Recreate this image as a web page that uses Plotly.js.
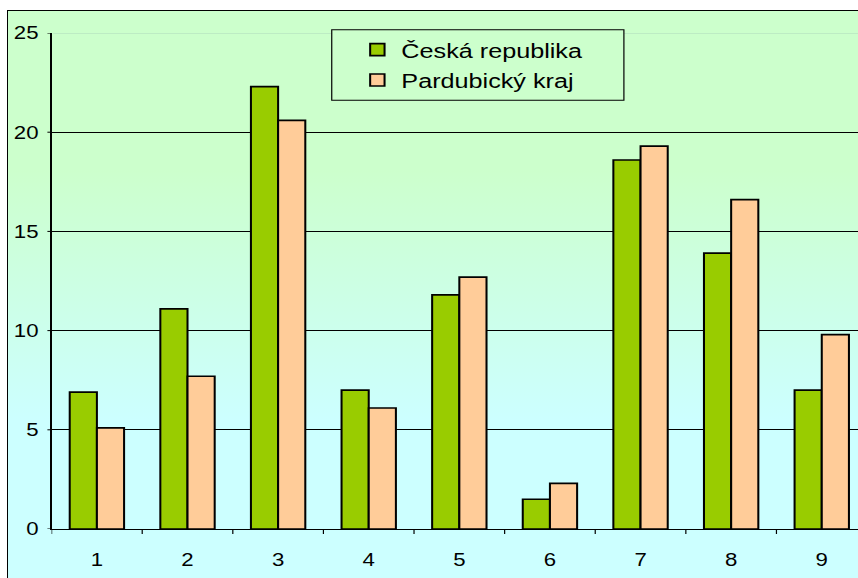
<!DOCTYPE html>
<html>
<head>
<meta charset="utf-8">
<script src="https://cdn.plot.ly/plotly-3.0.1.min.js"></script>
<style>
  html, body { margin: 0; padding: 0; background: #ffffff; width: 858px; height: 578px; overflow: hidden; }
  #bg { position: absolute; left: 7px; top: 10px; width: 851px; height: 568px;
        border-left: 1px solid #000; border-top: 1px solid #000; box-sizing: border-box;
        background: linear-gradient(to bottom, #CCFFCC 0%, #CCFFCC 28%, #CCFFFF 72%, #CCFFFF 100%); }
  #chart { position: absolute; left: 0; top: 0; width: 715px; height: 578px;
           transform: scaleX(1.2); transform-origin: 0 0; }
</style>
</head>
<body>
<div id="bg"></div>
<div id="chart"></div>
<script>
const categories = ['1', '2', '3', '4', '5', '6', '7', '8', '9'];
const seriesNames = ['Česká republika', 'Pardubický kraj'];
const ceskaRepublika = [6.9, 11.1, 22.3, 7.0, 11.8, 1.5, 18.6, 13.9, 7.0];
const pardubickyKraj = [5.1, 7.7, 20.6, 6.1, 12.7, 2.3, 19.3, 16.6, 9.8];
const yTicks = [0, 5, 10, 15, 20, 25];

const fontFam = 'Liberation Sans, Arial, sans-serif';

const traces = [
  { type: 'bar', name: seriesNames[0], x: categories, y: ceskaRepublika,
    marker: { color: '#99CC00', line: { color: '#000000', width: 1.7 } } },
  { type: 'bar', name: seriesNames[1], x: categories, y: pardubickyKraj,
    marker: { color: '#FFCC99', line: { color: '#000000', width: 1.7 } } }
];

// tick marks drawn as pixel-sized shapes anchored on the axis values
const yTickMarks = yTicks.map(v => ({
  type: 'line', xref: 'paper', yref: 'y', xsizemode: 'pixel', xanchor: 0,
  x0: -3.5, x1: 0, y0: v, y1: v, line: { color: '#000', width: 1 }, layer: 'above'
}));
const xTickMarks = categories.map((c, i) => ({
  type: 'line', xref: 'x', yref: 'paper', ysizemode: 'pixel', yanchor: 0,
  x0: i - 0.5, x1: i - 0.5, y0: 0, y1: -5, line: { color: '#000', width: 1 }, layer: 'above'
}));

const layout = {
  width: 715, height: 578,
  margin: { l: 43.33, r: 0, t: 32.5, b: 48.5, pad: 0 },
  paper_bgcolor: 'rgba(0,0,0,0)',
  plot_bgcolor: 'rgba(0,0,0,0)',
  barmode: 'group', bargap: 0.4, bargroupgap: 0,
  showlegend: true,
  legend: {
    x: 0.3742, y: 1.007, xanchor: 'left', yanchor: 'top',
    bgcolor: 'rgba(0,0,0,0)', borderwidth: 0,
    font: { family: fontFam, size: 21, color: '#000' },
    tracegroupgap: 0
  },
  xaxis: {
    type: 'category', range: [-0.5, 8.4],
    showline: true, linecolor: '#000', linewidth: 1,
    ticks: 'outside', ticklen: 14, tickcolor: 'rgba(0,0,0,0)', tickwidth: 1,
    showgrid: false, zeroline: false,
    tickfont: { family: fontFam, size: 18.5, color: '#000' }
  },
  yaxis: {
    range: [0, 25], tickvals: yTicks, ticktext: yTicks.map(v => v + '\u2004'),
    showline: true, linecolor: '#000', linewidth: 1,
    ticks: '',
    showgrid: true, gridcolor: '#000', gridwidth: 1, zeroline: false,
    tickfont: { family: fontFam, size: 18.5, color: '#000' }
  },
  shapes: [
    { type: 'line', xref: 'paper', yref: 'y', x0: 0.002, x1: 1, y0: 25, y1: 25,
      line: { color: '#B8E6C2', width: 1.5 }, layer: 'above' },
    { type: 'rect', xref: 'paper', yref: 'paper', x0: 0.3474, x1: 0.7097, y0: 0.8642, y1: 1.0064,
      fillcolor: '#CCFFCC', line: { color: '#000', width: 1 }, layer: 'above' }
  ].concat(yTickMarks, xTickMarks)
};

Plotly.newPlot('chart', traces, layout, { staticPlot: true, displayModeBar: false });
</script>
</body>
</html>
